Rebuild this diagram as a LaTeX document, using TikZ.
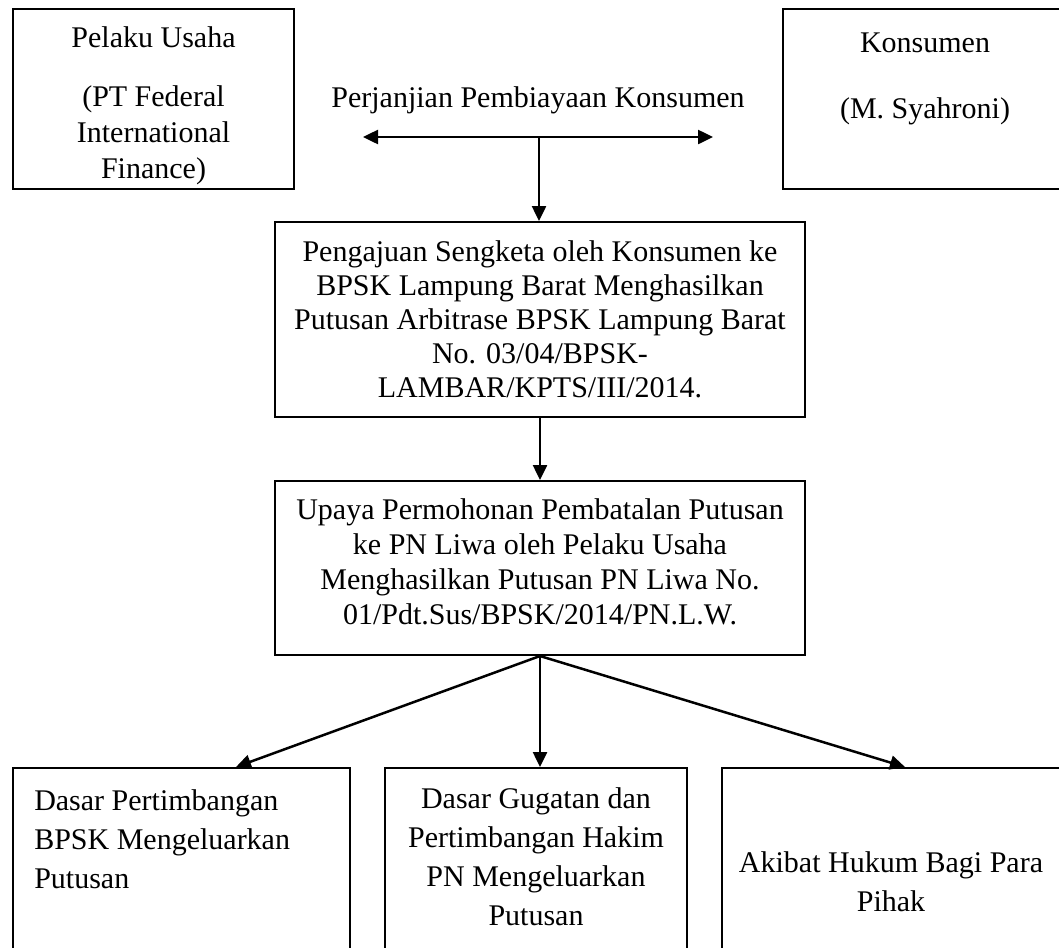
\documentclass[tikz,border=0pt]{standalone}
\usepackage{fontspec}
\setmainfont{Liberation Serif}
\usetikzlibrary{arrows.meta}

\begin{document}
\begin{tikzpicture}[x=0.4pt, y=-0.4pt, line width=1pt, >={Triangle[length=6pt, width=5.6pt]}, every node/.style={font=\fontsize{12}{14}\selectfont}, box/.style={draw, line width=0.8pt, rectangle, inner sep=2pt, align=center}, txt/.style={inner sep=0pt, align=center}, low/.style={font=\fontsize{12}{15.6}\selectfont}]
	\clip (0,0) rectangle (1059,947);
	\node[box, minimum width=112.4pt, minimum height=72pt] (pelaku) at (153.5,99) {};
	\node[txt, font=\fontsize{12}{14.4}\selectfont] (pelakuT) at (153.5,106) {Pelaku Usaha\\[9.2pt](PT Federal\\International\\Finance)};
	\node[box, minimum width=113.6pt, minimum height=72pt] (konsumen) at (925,99) {};
	\node[txt] (konsT) at (925,78.5) {Konsumen\\[12.4pt](M. Syahroni)};
	\node[txt] (perjanjian) at (538,100) {Perjanjian Pembiayaan Konsumen};
	\coordinate (agL) at (363,137);
	\coordinate (agR) at (713,137);
	\coordinate (agM) at (539,137);
	\node[box, minimum width=212pt, minimum height=78pt, font=\fontsize{12}{13.6}\selectfont] (pengajuan) at (540,319.5) {Pengajuan Sengketa oleh Konsumen ke\\BPSK Lampung Barat Menghasilkan\\Putusan Arbitrase BPSK Lampung Barat\\No. 03/04/BPSK-\\LAMBAR/KPTS/III/2014.};
	\node[box, minimum width=212pt, minimum height=69.6pt] (upaya) at (540,568) {};
	\node[txt] (upayaT) at (540,562) {Upaya Permohonan Pembatalan Putusan\\ke PN Liwa oleh Pelaku Usaha\\Menghasilkan Putusan PN Liwa No.\\01/Pdt.Sus/BPSK/2014/PN.L.W.};
	\node[box, minimum width=134.8pt, minimum height=88.8pt] (bxA) at (181.5,879) {};
	\node[box, minimum width=120.8pt, minimum height=88.8pt] (bxB) at (536,879) {};
	\node[box, minimum width=135.2pt, minimum height=88.8pt] (bxC) at (891,879) {};
	\node[txt, low, align=left, anchor=north west] (txtA) at (33,788) {Dasar Pertimbangan\\BPSK Mengeluarkan\\Putusan};
	\node[txt, low, anchor=north] (txtB) at (536,786) {Dasar Gugatan dan\\Pertimbangan Hakim\\PN Mengeluarkan\\Putusan};
	\node[txt, low, anchor=north] (txtC) at (891,850) {Akibat Hukum Bagi Para\\Pihak};
	\draw[<->] (agL) -- (agR);
	\draw[->] (agM) -- (agM |- pengajuan.north);
	\draw[->] (pengajuan.south) -- (upaya.north);
	\draw[->] (upaya.south) -- ([xshift=21.8pt]bxA.north);
	\draw[->] (upaya.south) -- (upaya.south |- bxB.north);
	\draw[->] (upaya.south) -- ([xshift=5.6pt]bxC.north);
\end{tikzpicture}
\end{document}
